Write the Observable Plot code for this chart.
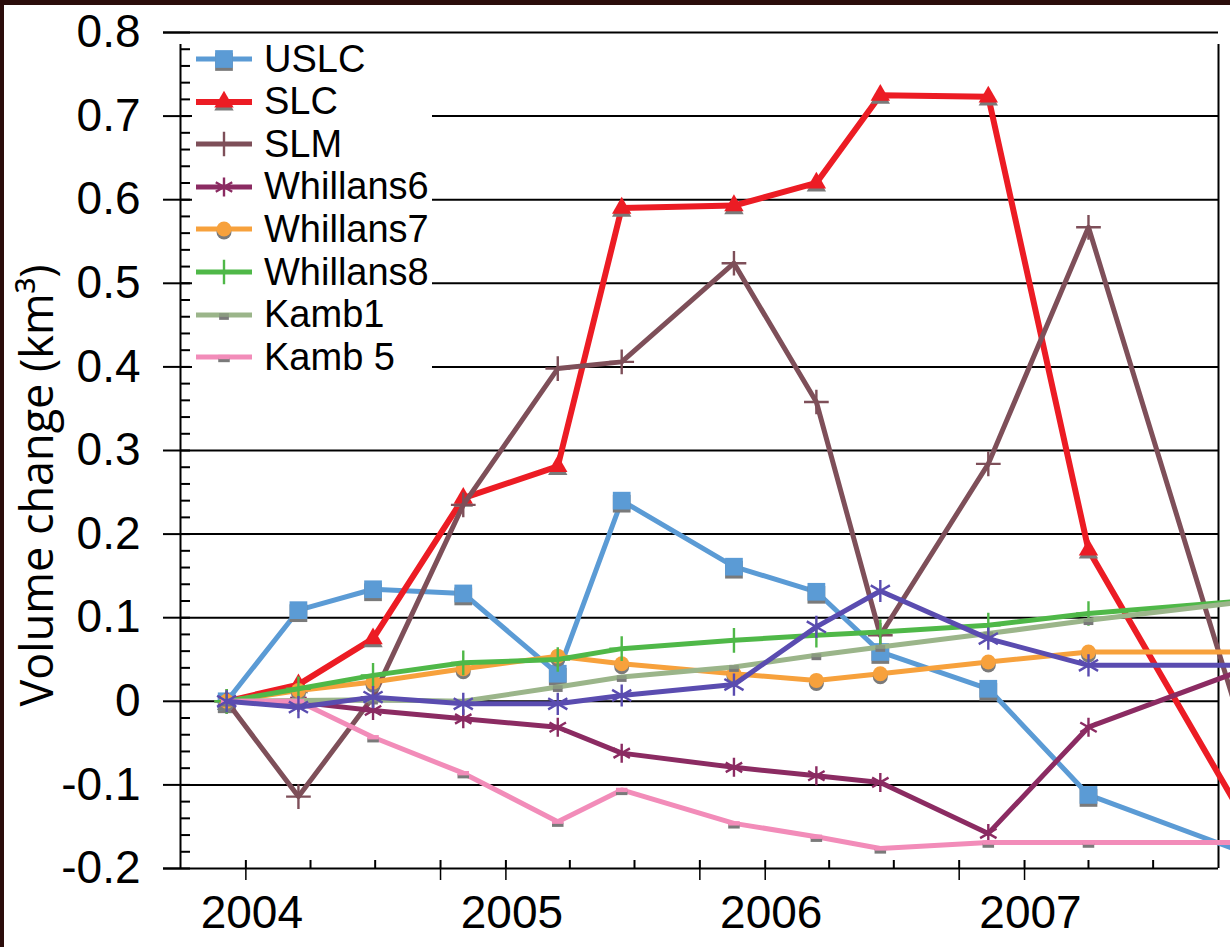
<!DOCTYPE html>
<html><head><meta charset="utf-8">
<script src="https://cdn.jsdelivr.net/npm/d3@7"></script>
<script src="https://cdn.jsdelivr.net/npm/@observablehq/plot@0.6"></script>
<style>
html,body{margin:0;padding:0;background:#fff;overflow:hidden;}
#wrap{position:relative;width:1230px;height:947px;overflow:hidden;}
#legend{position:absolute;left:192px;top:36px;width:240px;height:352px;background:#fff;}
.row{position:absolute;left:0;height:40px;display:flex;align-items:center;}
.row svg{display:block;}
.row span{font-family:"Liberation Sans",Arial,sans-serif;font-size:38px;color:#000;margin-left:8px;white-space:nowrap;}
.frameTop{position:absolute;left:0;top:0;width:1230px;height:5px;background:#2b0d0b;}
.frameLeft{position:absolute;left:0;top:0;width:4px;height:947px;background:#2b0d0b;}
</style></head><body><div id="wrap"></div>
<script>
// ---- data ----
const dates = ["2003-12-05","2004-03-15","2004-06-28","2004-11-02","2005-03-15","2005-06-13","2005-11-18","2006-03-14","2006-06-12","2006-11-11","2007-04-01","2007-11-06"];
const USLC      = [0, 0.109, 0.134, 0.129, 0.033, 0.240, 0.161, 0.131, 0.059, 0.015, -0.112, -0.181];
const SLC       = [0, 0.020, 0.075, 0.243, 0.281, 0.590, 0.593, 0.620, 0.725, 0.723, 0.181, -0.140];
const SLM       = [0, -0.114, 0.005, 0.235, 0.398, 0.406, 0.524, 0.358, 0.079, 0.284, 0.567, -0.040];
const Whillans6 = [0, -0.001, -0.011, -0.021, -0.031, -0.062, -0.079, -0.089, -0.097, -0.158, -0.031, 0.038];
const Whillans7 = [0, 0.013, 0.023, 0.039, 0.054, 0.045, 0.033, 0.025, 0.033, 0.047, 0.059, 0.059];
const Whillans8 = [0, 0.015, 0.031, 0.046, 0.050, 0.063, 0.073, 0.079, 0.083, 0.091, 0.105, 0.120];
const Kamb1     = [0, 0.001, 0.002, 0.000, 0.017, 0.029, 0.041, 0.055, 0.065, 0.081, 0.097, 0.119];
const Kamb5     = [0, 0.000, -0.043, -0.086, -0.144, -0.106, -0.146, -0.162, -0.176, -0.169, -0.169, -0.169];
const Unlabeled = [0, -0.007, 0.005, -0.003, -0.003, 0.007, 0.020, 0.089, 0.132, 0.075, 0.043, 0.043];

const yTicks  = [-0.2, -0.1, 0, 0.1, 0.2, 0.3, 0.4, 0.5, 0.6, 0.7, 0.8];
const yLabels = ["-0.2", "-0.1", "0", "0.1", "0.2", "0.3", "0.4", "0.5", "0.6", "0.7", "0.8"];
const yearTicks  = ["2004-01-01", "2005-01-01", "2006-01-01", "2007-01-01"];
const yearLabels = ["2004", "2005", "2006", "2007"];
const yTitle = "Volume change (km³)";

// ---- helpers ----
const D = s => new Date(s + "T00:00:00Z");
const x0 = D("2003-10-01"), x1 = D("2007-10-01");
const dash = {draw(ctx, size) { const w = Math.sqrt(size) / 2; ctx.rect(-w, -w * 0.38, 2 * w, w * 0.76); }};
const series = [
  {name: "USLC", values: USLC, color: "#5b9bd5", symbol: "square", r: 10, fill: true, sw: 5},
  {name: "SLC", values: SLC, color: "#ec1c24", symbol: "triangle", r: 7.2, fill: true, sw: 6},
  {name: "SLM", values: SLM, color: "#7e4f59", symbol: "plus", r: 8, fill: false, sw: 5},
  {name: "Whillans6", values: Whillans6, color: "#8b2b62", symbol: "asterisk", r: 9, fill: false, sw: 5},
  {name: "Whillans7", values: Whillans7, color: "#f7a13c", symbol: "circle", r: 7.5, fill: true, sw: 5},
  {name: "Whillans8", values: Whillans8, color: "#4fb848", symbol: "plus", r: 8, fill: false, sw: 5},
  {name: "Kamb1", values: Kamb1, color: "#9bb58a", symbol: dash, r: 5.5, fill: true, sw: 5, mark: "#8a9a80"},
  {name: "Kamb 5", values: Kamb5, color: "#f28cb9", symbol: dash, r: 6.5, fill: true, sw: 5},
  {name: null, values: Unlabeled, color: "#5a4cb0", symbol: "asterisk", r: 10.5, fill: false, sw: 5}
];

const quarters = d3.utcMonth.every(3).range(D("2004-01-01"), D("2007-09-02"));
const downTicks = quarters.filter(d => d.getUTCMonth() === 0 || d.getUTCMonth() === 9);
const yMinor = d3.range(-10, 41).map(i => i / 50).filter(v => Math.abs(v * 10 - Math.round(v * 10)) > 1e-6);
const grid = yTicks.filter(v => v > -0.2 && v < 0.8);

const seriesMarks = [];
for (const s of series) {
  const data = dates.map((d, i) => ({date: D(d), value: s.values[i]}));
  seriesMarks.push(Plot.line(data, {x: "date", y: "value", stroke: s.color, strokeWidth: s.sw, strokeLinejoin: "round"}));
  if (s.fill) {
    seriesMarks.push(Plot.dot(data, {x: "date", y: "value", symbol: s.symbol, r: s.r, fill: "#7a7a7a", dy: 3}));
    seriesMarks.push(Plot.dot(data, {x: "date", y: "value", symbol: s.symbol, r: s.r, fill: s.mark || s.color}));
  } else {
    seriesMarks.push(Plot.dot(data, {x: "date", y: "value", symbol: s.symbol, r: s.r, stroke: s.color, strokeWidth: 2.4}));
  }
}

const chart = Plot.plot({
  width: 1230, height: 947,
  marginLeft: 180, marginRight: 12, marginTop: 32, marginBottom: 79,
  x: {type: "utc", domain: [x0, x1], axis: null},
  y: {domain: [-0.2, 0.8], axis: null},
  style: {fontFamily: "'Liberation Sans', Arial, sans-serif", background: "white", overflow: "hidden"},
  marks: [
    Plot.ruleY(grid, {stroke: "#000", strokeWidth: 2}),
    Plot.ruleY([-0.2, 0.8], {stroke: "#000", strokeWidth: 2, insetLeft: -17}),
    Plot.ruleX([x0, x1], {y1: -0.2, y2: 0.8, stroke: "#000", strokeWidth: 2, insetBottom: -12}),
    Plot.ruleY(yTicks, {x1: () => x0, x2: () => x0, insetLeft: -17, insetRight: -10, stroke: "#000", strokeWidth: 2}),
    Plot.ruleY(yMinor, {x1: () => x0, x2: () => x0, insetRight: -10, stroke: "#000", strokeWidth: 2}),
    Plot.ruleX(quarters, {y1: -0.2, y2: -0.2, insetTop: -8, stroke: "#000", strokeWidth: 2}),
    Plot.ruleX(downTicks, {y1: -0.2, y2: -0.2, insetBottom: -12, stroke: "#000", strokeWidth: 1.5}),
    Plot.text(yTicks, {x: () => x0, y: d => d, text: (d, i) => yLabels[i], textAnchor: "end", dx: -40, fontSize: 46, fill: "#000"}),
    Plot.text(yearTicks, {x: d => D(d), y: () => -0.2, text: (d, i) => yearLabels[i], dy: 45, dx: 6, fontSize: 46, fill: "#000"}),
    Plot.text([yTitle], {frameAnchor: "left", textAnchor: "middle", rotate: -90, dx: -142, dy: 35, fontSize: 45, fontFamily: "'Open Sans', sans-serif", fill: "#000"}),
    ...seriesMarks
  ]
});

const wrap = document.getElementById("wrap");
wrap.appendChild(chart);

// legend (inside plot area, white box)
const legend = document.createElement("div");
legend.id = "legend";
wrap.appendChild(legend);
series.filter(s => s.name).forEach((s, i) => {
  const row = document.createElement("div");
  row.className = "row";
  row.style.top = (23 + i * 42.6 - 20) + "px";
  const svg = d3.create("svg").attr("width", 64).attr("height", 40);
  svg.append("line").attr("x1", 4).attr("x2", 60).attr("y1", 20).attr("y2", 20)
    .attr("stroke", s.color).attr("stroke-width", s.sw);
  const symType = typeof s.symbol === "string"
    ? {square: d3.symbolSquare, triangle: d3.symbolTriangle, plus: d3.symbolPlus, asterisk: d3.symbolAsterisk, circle: d3.symbolCircle}[s.symbol]
    : s.symbol;
  const path = d3.symbol(symType, s.r * s.r * Math.PI)();
  if (s.fill) {
    svg.append("path").attr("d", path).attr("transform", "translate(32,23)").attr("fill", "#7a7a7a");
    svg.append("path").attr("d", path).attr("transform", "translate(32,20)").attr("fill", s.mark || s.color);
  } else {
    svg.append("path").attr("d", path).attr("transform", "translate(32,20)").attr("fill", "none").attr("stroke", s.color).attr("stroke-width", 2.4);
  }
  row.appendChild(svg.node());
  const span = document.createElement("span");
  span.textContent = s.name;
  row.appendChild(span);
  legend.appendChild(row);
});

const ft = document.createElement("div"); ft.className = "frameTop"; wrap.appendChild(ft);
const fl = document.createElement("div"); fl.className = "frameLeft"; wrap.appendChild(fl);
</script>
</body></html>
